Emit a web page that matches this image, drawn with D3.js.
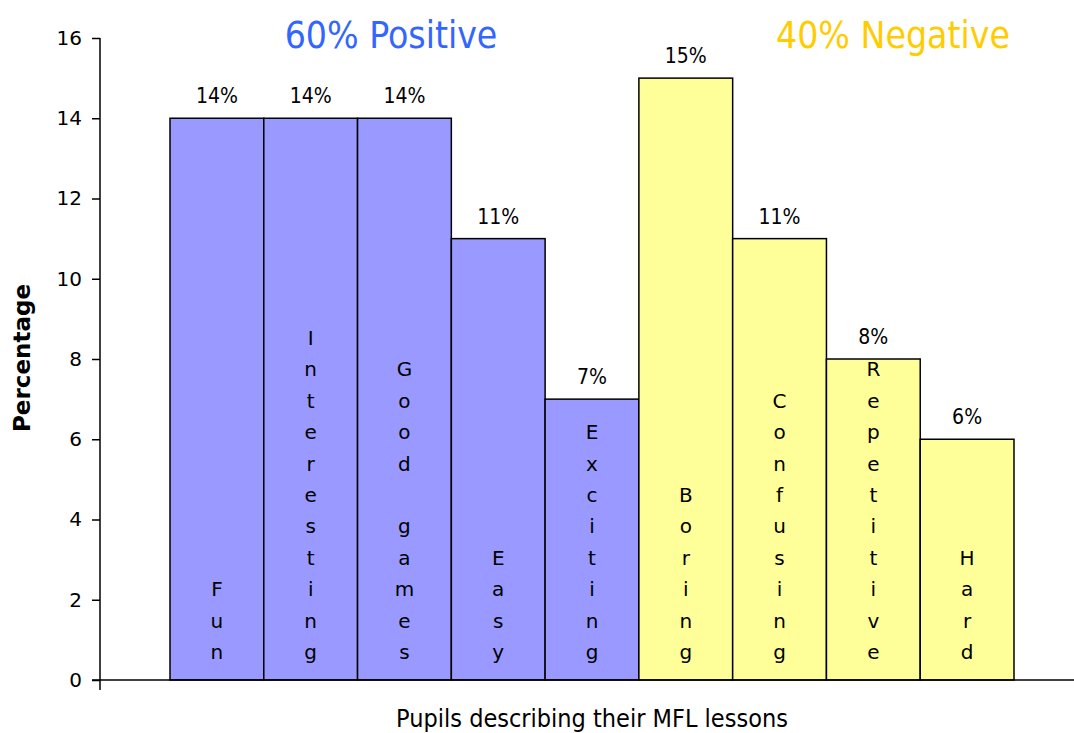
<!DOCTYPE html>
<html>
<head>
<meta charset="utf-8">
<script src="https://cdn.jsdelivr.net/npm/d3@7"></script>
<style>
  body { margin: 0; background: #fff; }
</style>
</head>
<body>
<div class="area"></div>
<script>
var words = ['Fun', 'Interesting', 'Good games', 'Easy', 'Exciting', 'Boring', 'Confusing', 'Repetitive', 'Hard'];
var values = [14, 14, 14, 11, 7, 15, 11, 8, 6];
var groups = ['pos', 'pos', 'pos', 'pos', 'pos', 'neg', 'neg', 'neg', 'neg'];
var yTicks = [0, 2, 4, 6, 8, 10, 12, 14, 16];
var headings = ['60% Positive', '40% Negative'];

var fill = { pos: '#9999ff', neg: '#ffff99' };
var font = 'Verdana, "DejaVu Sans", sans-serif';
var condensed = '"DejaVu Sans Condensed", "DejaVu Sans", sans-serif';

var svg = d3.select('.area')
    .append('svg')
    .attr('width', 1074)
    .attr('height', 733);

var x = d3.scaleBand()
    .domain(words)
    .range([170, 1014])
    .padding(0);

var y = d3.scaleLinear()
    .domain([0, 16])
    .range([680, 38]);

// y axis
var yAxis = svg.append('g')
    .attr('transform', 'translate(100,0)')
    .call(d3.axisLeft(y).tickValues(yTicks).tickSize(8).tickPadding(10));
yAxis.select('.domain').remove();
yAxis.selectAll('line').attr('stroke', 'black').attr('stroke-width', 1.5);
yAxis.selectAll('text')
    .style('font-size', '20px')
    .attr('font-family', font)
    .attr('fill', 'black');

svg.append('line')
    .attr('x1', 100).attr('y1', y(16))
    .attr('x2', 100).attr('y2', 690)
    .style('stroke', 'black')
    .style('stroke-width', 1.5);

// bars
svg.selectAll('rect.bar')
    .data(words)
    .enter()
    .append('rect')
    .attr('class', 'bar')
    .attr('x', function (d) { return x(d); })
    .attr('y', function (d, i) { return y(values[i]); })
    .attr('width', x.bandwidth())
    .attr('height', function (d, i) { return y(0) - y(values[i]); })
    .attr('fill', function (d, i) { return fill[groups[i]]; })
    .attr('stroke', 'black')
    .attr('stroke-width', 1.5);

// x axis line
svg.append('line')
    .attr('x1', 92).attr('y1', y(0))
    .attr('x2', 1074).attr('y2', y(0))
    .style('stroke', 'black')
    .style('stroke-width', 1.5);

// value labels
svg.selectAll('text.val')
    .data(words)
    .enter()
    .append('text')
    .attr('class', 'val')
    .attr('x', function (d) { return x(d) + x.bandwidth() / 2; })
    .attr('y', function (d, i) { return y(values[i]) - 15; })
    .attr('text-anchor', 'middle')
    .attr('font-family', condensed)
    .style('font-size', '21px')
    .attr('fill', 'black')
    .text(function (d, i) { return values[i] + '%'; });

// vertical letters inside bars, one per line, bottom aligned
words.forEach(function (w) {
    var chars = w.split('');
    var n = chars.length;
    var cx = x(w) + x.bandwidth() / 2;
    chars.forEach(function (c, k) {
        if (c === ' ') return;
        svg.append('text')
            .attr('x', cx)
            .attr('y', y(0) - 21 - (n - 1 - k) * 31.4)
            .attr('text-anchor', 'middle')
            .attr('font-family', font)
            .style('font-size', '20px')
            .attr('fill', 'black')
            .text(c);
    });
});

// group headings
svg.append('text')
    .attr('x', 391).attr('y', 48)
    .attr('text-anchor', 'middle')
    .attr('font-family', condensed)
    .style('font-size', '37px')
    .attr('fill', '#3366ff')
    .text(headings[0]);

svg.append('text')
    .attr('x', 893).attr('y', 48)
    .attr('text-anchor', 'middle')
    .attr('font-family', condensed)
    .style('font-size', '37px')
    .attr('fill', '#ffcc00')
    .text(headings[1]);

// axis titles
svg.append('text')
    .attr('transform', 'translate(30,358) rotate(-90)')
    .attr('text-anchor', 'middle')
    .attr('font-family', font)
    .attr('font-weight', 'bold')
    .style('font-size', '23px')
    .attr('fill', 'black')
    .text('Percentage');

svg.append('text')
    .attr('x', 592).attr('y', 727)
    .attr('text-anchor', 'middle')
    .attr('font-family', condensed)
    .style('font-size', '25px')
    .attr('fill', 'black')
    .text('Pupils describing their MFL lessons');
</script>
</body>
</html>
